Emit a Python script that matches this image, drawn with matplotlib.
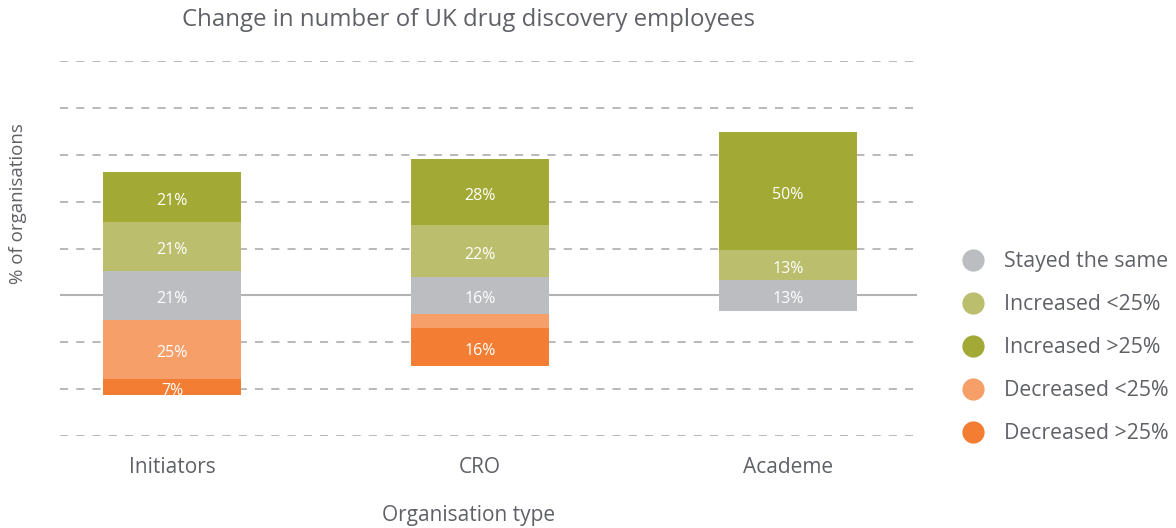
import matplotlib.pyplot as plt
from matplotlib.lines import Line2D
import numpy as np

plt.rcParams['font.family'] = ['Open Sans', 'DejaVu Sans']

categories = ['Initiators', 'CRO', 'Academe']
stayed_same = [21, 16, 13]
increased_lt25 = [21, 22, 13]
increased_gt25 = [21, 28, 50]
decreased_lt25 = [25, 6, 0]
decreased_gt25 = [7, 16, 0]

series_labels = ['Stayed the same', 'Increased <25%', 'Increased >25%',
                 'Decreased <25%', 'Decreased >25%']
colors = {
    'Stayed the same': '#BCBDC1',
    'Increased <25%': '#BBBE6C',
    'Increased >25%': '#A2AA35',
    'Decreased <25%': '#F79F68',
    'Decreased >25%': '#F37E33',
}
text_color = '#5F6166'
grid_color = '#B3B3B3'

W, H = 1176, 528
fig = plt.figure(figsize=(W / 100, H / 100), dpi=100)
ax = fig.add_axes([60 / W, 1 - 436 / H, (917 - 60) / W, (436 - 61) / H])

x = np.arange(len(categories))
bar_w = 0.45

stayed = np.array(stayed_same, float)
inc1 = np.array(increased_lt25, float)
inc2 = np.array(increased_gt25, float)
dec1 = np.array(decreased_lt25, float)
dec2 = np.array(decreased_gt25, float)

# neutral block is split around zero, increases stack up, decreases stack down
segments = [
    ('Stayed the same', -stayed / 2, stayed),
    ('Increased <25%', stayed / 2, inc1),
    ('Increased >25%', stayed / 2 + inc1, inc2),
    ('Decreased <25%', -stayed / 2 - dec1, dec1),
    ('Decreased >25%', -stayed / 2 - dec1 - dec2, dec2),
]

# gridlines
for yv in range(-60, 101, 20):
    if yv == 0:
        continue
    ax.axhline(yv, color=grid_color, lw=1.3, ls=(0, (4.5, 4.5)), zorder=0)

for name, bottom, vals in segments:
    ax.bar(x, vals, bottom=bottom, width=bar_w, color=colors[name],
           zorder=2, linewidth=0)
    for xi, b, v in zip(x, bottom, vals):
        if v >= 7:
            ax.annotate(f'{v:.0f}%', (xi, b + v / 2), xytext=(0, -1.5),
                        textcoords='offset points', ha='center',
                        va='center_baseline', color='white', fontsize=11.5,
                        zorder=3)

ax.axhline(0, color=grid_color, lw=1.5, zorder=1)

ax.set_ylim(-60, 100)
ax.set_xlim(-0.364, 2.419)
for s in ax.spines.values():
    s.set_visible(False)
ax.set_yticks([])
ax.set_xticks(x)
ax.set_xticklabels(categories, fontsize=15, color=text_color)
ax.tick_params(axis='x', length=0, pad=15)

fig.text(468 / W, 1 - 20 / H, 'Change in number of UK drug discovery employees',
         ha='center', va='center', fontsize=17.3, color=text_color)
fig.text(469 / W, 1 - 516 / H, 'Organisation type', ha='center', va='center',
         fontsize=15, color=text_color)
fig.text(18 / W, 1 - 204 / H, '% of organisations', ha='center', va='center',
         rotation=90, fontsize=13.5, color=text_color)

handles = [Line2D([], [], marker='o', ls='none', markersize=16,
                  markerfacecolor=colors[n], markeredgecolor='none')
           for n in series_labels]
fig.legend(handles, series_labels, loc='upper left',
           bbox_to_anchor=(962 / W, 1 - 251 / H), frameon=False,
           fontsize=15.3, labelcolor=text_color, handlelength=1.0,
           handletextpad=0.97, labelspacing=1.04, borderaxespad=0,
           borderpad=0)

fig.savefig('out.png', dpi=100)
